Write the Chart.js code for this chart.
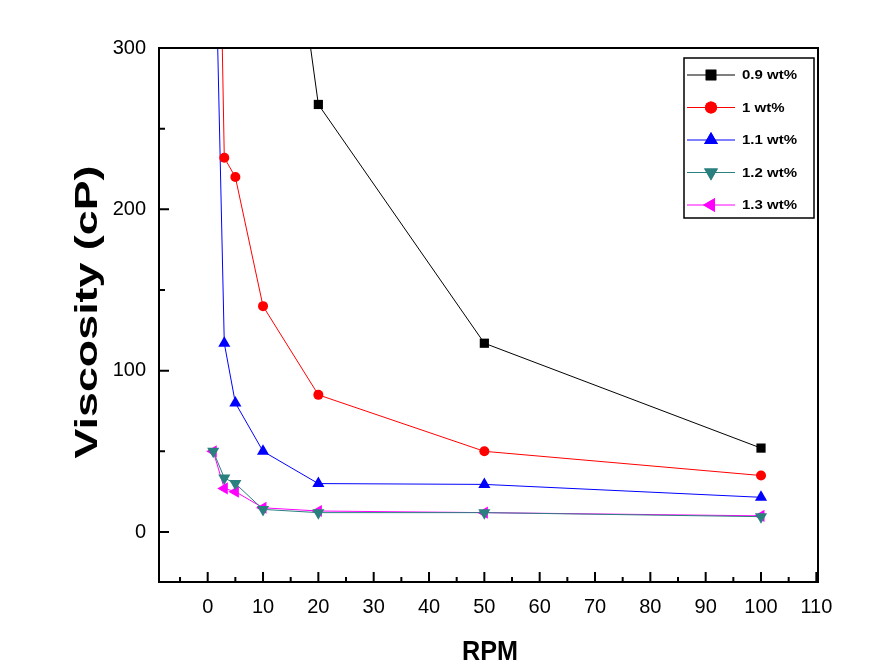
<!DOCTYPE html>
<html>
<head>
<meta charset="utf-8">
<script src="https://cdn.jsdelivr.net/npm/chart.js@4.4.1/dist/chart.umd.min.js"></script>
<style>
  html, body { margin: 0; padding: 0; background: #fff; }
  #wrap { width: 874px; height: 669px; position: relative; }
</style>
</head>
<body>
<div id="wrap"><canvas id="chart"></canvas></div>
<script>
// ── data ──
const rpm      = [1, 3, 5, 10, 20, 50, 100];
const rpmHigh  = [10, 20, 50, 100];
const visc09   = [515, 265, 117, 52];
const visc10   = [610, 232, 220, 140, 85, 50, 35];
const visc11   = [425, 117, 80, 50, 30, 29.5, 21.5];
const visc12   = [50, 33.5, 30, 14, 12, 12, 9.5];
const visc13   = [50, 27, 25, 15, 13, 12, 10];
const names    = ['0.9 wt%', '1 wt%', '1.1 wt%', '1.2 wt%', '1.3 wt%'];

const xMajor = [0, 10, 20, 30, 40, 50, 60, 70, 80, 90, 100, 110];
const xMinor = [-5, 5, 15, 25, 35, 45, 55, 65, 75, 85, 95, 105];
const yMajor = [0, 100, 200, 300];
const yMinor = [50, 150, 250];

const FONT = '"Liberation Sans", Arial, sans-serif';

function pts(xs, ys) { return xs.map((x, i) => ({ x, y: ys[i] })); }

const styles = [
  { color: '#000000', pointStyle: 'rect',     rot: 0,   r: 6.5 },
  { color: '#ff0000', pointStyle: 'circle',   rot: 0,   r: 5 },
  { color: '#0000ff', pointStyle: 'triangle', rot: 0,   r: 7 },
  { color: '#2a7f7f', pointStyle: 'triangle', rot: 180, r: 7 },
  { color: '#ff00ff', pointStyle: 'triangle', rot: -90, r: 7 }
];
const series = [pts(rpmHigh, visc09), pts(rpm, visc10), pts(rpm, visc11), pts(rpm, visc12), pts(rpm, visc13)];

const datasets = series.map((d, i) => ({
  label: names[i],
  data: d,
  borderColor: styles[i].color,
  backgroundColor: styles[i].color,
  borderWidth: 1,
  pointStyle: styles[i].pointStyle,
  pointRotation: styles[i].rot,
  pointRadius: styles[i].r,
  pointBorderWidth: 0,
  tension: 0
}));

// ── frame + inward ticks ──
const framePlugin = {
  id: 'frame',
  afterDatasetsDraw(chart) {
    const { ctx, chartArea: a, scales } = chart;
    ctx.save();
    ctx.strokeStyle = '#000';
    ctx.lineWidth = 2;
    ctx.strokeRect(a.left, a.top, a.right - a.left, a.bottom - a.top);
    ctx.beginPath();
    xMajor.forEach(v => { const p = scales.x.getPixelForValue(v); ctx.moveTo(p, a.bottom); ctx.lineTo(p, a.bottom - 10); });
    xMinor.forEach(v => { const p = scales.x.getPixelForValue(v); ctx.moveTo(p, a.bottom); ctx.lineTo(p, a.bottom - 5); });
    yMajor.forEach(v => { const p = scales.y.getPixelForValue(v); ctx.moveTo(a.left, p); ctx.lineTo(a.left + 10, p); });
    yMinor.forEach(v => { const p = scales.y.getPixelForValue(v); ctx.moveTo(a.left, p); ctx.lineTo(a.left + 6, p); });
    ctx.stroke();
    ctx.restore();
  }
};

// ── axis titles (stretched like the original export) ──
const titlePlugin = {
  id: 'titles',
  afterDraw(chart) {
    const { ctx } = chart;
    ctx.save();
    ctx.fillStyle = '#000';
    ctx.textAlign = 'center';
    ctx.textBaseline = 'middle';
    ctx.font = 'bold 32px ' + FONT;
    ctx.translate(88, 312);
    ctx.rotate(-Math.PI / 2);
    ctx.scale(1.4, 1);
    ctx.fillText('Viscosity (cP)', 0, 0);
    ctx.restore();

    ctx.save();
    ctx.fillStyle = '#000';
    ctx.textAlign = 'center';
    ctx.textBaseline = 'middle';
    ctx.font = 'bold 28px ' + FONT;
    ctx.translate(490, 652);
    ctx.scale(0.9, 1);
    ctx.fillText('RPM', 0, 0);
    ctx.restore();
  }
};

// ── legend box inside the plot ──
const legendPlugin = {
  id: 'boxLegend',
  afterDraw(chart) {
    const { ctx } = chart;
    const x0 = 684, y0 = 58, w = 130, h = 160;
    ctx.save();
    ctx.strokeStyle = '#000';
    ctx.lineWidth = 1.5;
    ctx.strokeRect(x0, y0, w, h);
    chart.data.datasets.forEach((ds, i) => {
      const y = 75 + i * 32.5;
      ctx.strokeStyle = ds.borderColor;
      ctx.lineWidth = 1;
      ctx.beginPath();
      ctx.moveTo(687, y);
      ctx.lineTo(735, y);
      ctx.stroke();
      ctx.fillStyle = ds.backgroundColor;
      Chart.helpers.drawPoint(ctx, {
        pointStyle: ds.pointStyle, rotation: ds.pointRotation,
        radius: ds.pointRadius + 1, borderWidth: 0
      }, 711, y);
      ctx.fill();
      ctx.save();
      ctx.fillStyle = '#000';
      ctx.font = 'bold 12.5px ' + FONT;
      ctx.textAlign = 'left';
      ctx.textBaseline = 'middle';
      ctx.translate(742, y + 1);
      ctx.scale(1.2, 1);
      ctx.fillText(ds.label, 0, 0);
      ctx.restore();
    });
    ctx.restore();
  }
};

new Chart(document.getElementById('chart'), {
  type: 'line',
  data: { datasets },
  options: {
    responsive: true,
    maintainAspectRatio: false,
    animation: false,
    layout: { padding: { left: 0, top: 48, right: 56, bottom: 0 } },
    plugins: { legend: { display: false }, tooltip: { enabled: false } },
    scales: {
      x: {
        type: 'linear',
        min: -8.8,
        max: 110.3,
        grid: { display: false },
        border: { display: false },
        ticks: { color: '#000', font: { family: FONT, size: 20 }, padding: 5, maxRotation: 0 },
        afterBuildTicks: s => { s.ticks = xMajor.map(v => ({ value: v })); },
        afterFit: s => { s.height = 87; }
      },
      y: {
        type: 'linear',
        min: -31,
        max: 300,
        grid: { display: false },
        border: { display: false },
        ticks: { color: '#000', font: { family: FONT, size: 20 }, padding: 5 },
        afterBuildTicks: s => { s.ticks = yMajor.map(v => ({ value: v })); },
        afterFit: s => { s.width = 159; }
      }
    }
  },
  plugins: [framePlugin, titlePlugin, legendPlugin]
});
</script>
</body>
</html>
